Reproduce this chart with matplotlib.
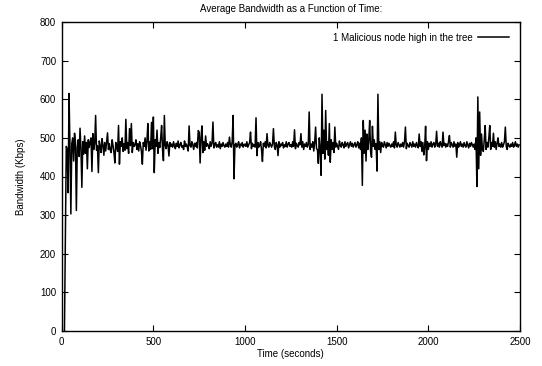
import numpy as np
import matplotlib
matplotlib.use("Agg")
import matplotlib.pyplot as plt

plt.rcParams['font.family'] = ['Liberation Sans', 'DejaVu Sans']

title = "Average Bandwidth as a Function of Time:"
xlabel = "Time (seconds)"
ylabel = "Bandwidth (Kbps)"
series_label = "1 Malicious node high in the tree"
x_ticks = [0, 500, 1000, 1500, 2000, 2500]
y_ticks = [0, 100, 200, 300, 400, 500, 600, 700, 800]

# sample spacing (seconds) of the series
step = 5
nan = float('nan')

# bandwidth samples, t = 0 .. 495
bw_0000 = [
    nan, nan, nan, 0, 250, 478, 470, 358, 615, 480,
    303, 485, 500, 440, 512, 488, 312, 475, 495, 452,
    525, 472, 372, 490, 458, 505, 460, 488, 420, 495,
    475, 490, 500, 413, 511, 470, 485, 558, 468, 480,
    410, 492, 478, 462, 498, 482, 455, 488, 466, 490,
    513, 470, 485, 468, 462, 495, 480, 462, 435, 488,
    480, 465, 532, 432, 490, 478, 500, 465, 485, 468,
    548, 472, 488, 460, 524, 480, 537, 462, 488, 478,
    482, 495, 470, 485, 466, 490, 480, 465, 432, 488,
    478, 500, 468, 492, 537, 466, 490, 470, 540, 472,
]
# t = 500 .. 995
bw_0500 = [
    554, 410, 495, 478, 520, 460, 488, 475, 500, 532,
    470, 441, 558, 480, 472, 490, 482, 453, 488, 478,
    484, 476, 490, 480, 472, 486, 478, 492, 474, 482,
    488, 476, 480, 470, 492, 478, 484, 476, 466, 531,
    480, 476, 490, 482, 470, 486, 478, 488, 474, 519,
    515, 435, 500, 531, 462, 490, 468, 505, 478, 485,
    480, 472, 490, 478, 486, 541, 474, 482, 488, 476,
    482, 476, 490, 472, 484, 478, 488, 480, 476, 484,
    478, 488, 476, 502, 482, 476, 490, 558, 394, 482,
    486, 476, 482, 490, 474, 484, 480, 488, 476, 482,
]
# t = 1000 .. 1495
bw_1000 = [
    484, 478, 490, 476, 482, 488, 515, 472, 486, 478,
    482, 476, 552, 454, 488, 476, 482, 490, 470, 439,
    486, 478, 490, 474, 511, 480, 476, 488, 482, 476,
    484, 524, 478, 470, 488, 482, 454, 490, 476, 484,
    480, 488, 474, 482, 478, 490, 476, 484, 488, 478,
    482, 476, 490, 478, 521, 472, 486, 480, 476, 488,
    482, 511, 476, 490, 470, 484, 478, 488, 476, 482,
    567, 470, 484, 476, 490, 466, 488, 528, 472, 470,
    434, 500, 470, 403, 613, 460, 520, 445, 571, 470,
    490, 455, 537, 437, 495, 470, 488, 462, 528, 476,
]
# t = 1500 .. 1995
bw_1500 = [
    486, 478, 470, 492, 480, 476, 488, 482, 474, 490,
    478, 484, 488, 474, 482, 490, 478, 486, 476, 482,
    488, 476, 482, 490, 474, 486, 470, 500, 377, 545,
    460, 520, 440, 510, 470, 495, 545, 465, 450, 530,
    478, 495, 470, 485, 414, 613, 470, 490, 462, 488,
    480, 476, 490, 482, 474, 488, 478, 486, 480, 476,
    484, 478, 490, 474, 515, 480, 476, 488, 482, 476,
    484, 478, 488, 476, 490, 528, 472, 486, 480, 476,
    488, 482, 476, 490, 478, 484, 476, 488, 480, 474,
    510, 478, 490, 465, 488, 456, 476, 530, 441, 490,
]
# t = 2000 .. 2495
bw_2000 = [
    470, 486, 478, 490, 476, 484, 488, 476, 482, 517,
    478, 486, 476, 490, 482, 476, 515, 480, 486, 476,
    484, 478, 490, 506, 476, 488, 482, 476, 490, 478,
    484, 450, 488, 476, 482, 490, 478, 484, 476, 488,
    480, 476, 490, 482, 474, 486, 478, 488, 482, 476,
    484, 470, 500, 374, 606, 420, 567, 455, 510, 470,
    465, 495, 532, 470, 488, 476, 500, 532, 470, 488,
    478, 512, 476, 490, 470, 486, 500, 478, 484, 476,
    488, 476, 482, 490, 528, 478, 470, 486, 480, 476,
    484, 478, 488, 476, 482, 490, 478, 484, 476, 482,
]

bandwidth = np.array(bw_0000 + bw_0500 + bw_1000 + bw_1500 + bw_2000, dtype=float)
time = step * np.arange(len(bandwidth))

W, H = 542, 366
fig = plt.figure(figsize=(W / 100, H / 100), dpi=100)
ax = fig.add_axes([61.7 / W, 1 - 331 / H, (520 - 61.7) / W, (331 - 22) / H])

ax.plot(time, bandwidth, color='black', lw=1.1, label=series_label)

ax.set_xlim(0, 2500)
ax.set_ylim(0, 800)
ax.set_xticks(x_ticks)
ax.set_yticks(y_ticks)
ax.tick_params(direction='in', length=4, width=0.8, top=True, right=True,
               labelsize=7, pad=4)
for s in ax.spines.values():
    s.set_linewidth(1.0)

ax.set_xlabel(xlabel, fontsize=7, labelpad=1.5)
ax.set_ylabel(ylabel, fontsize=7, labelpad=10)
ax.set_title(title, fontsize=7, pad=7)

ax.legend(loc='upper right', frameon=False, fontsize=7, markerfirst=False,
          handlelength=3.2, handletextpad=0.6, borderpad=0.0,
          borderaxespad=1.1)

fig.savefig("out.png", dpi=100)
